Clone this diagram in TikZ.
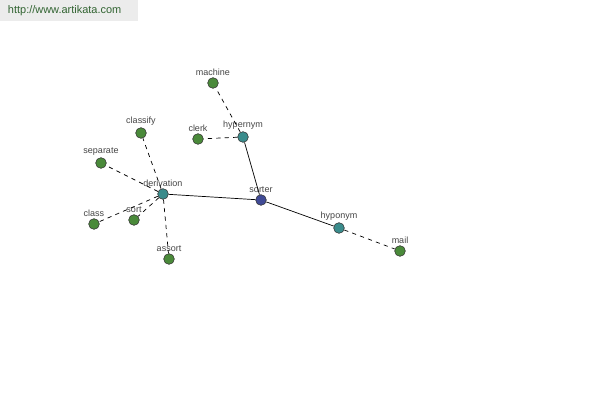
\documentclass[tikz,border=0pt]{standalone}
\usepackage{fontspec}
\setmainfont{Liberation Sans}
\definecolor{leaf}{RGB}{74,138,58}
\definecolor{hub}{RGB}{58,140,140}
\definecolor{root}{RGB}{64,74,150}
\definecolor{banner}{RGB}{236,236,236}
\definecolor{linktext}{RGB}{50,100,50}
\definecolor{labeltext}{RGB}{70,70,70}
\usetikzlibrary{positioning}

\tikzset{
  word/.style={circle,draw=black!80,line width=0.4pt,minimum size=7.6pt,inner sep=0pt,
    label={[font=\fontsize{6.4}{7}\selectfont,text=labeltext,inner sep=1pt]above:#1}},
  leafnode/.style={word=#1,fill=leaf},
  hubnode/.style={word=#1,fill=hub},
  rootnode/.style={word=#1,fill=root},
  strong/.style={draw=black,line width=0.5pt},
  weak/.style={draw=black,line width=0.5pt,dash pattern=on 3pt off 3pt}
}

\begin{document}
\begin{tikzpicture}[x=0.025cm,y=-0.025cm]
  \useasboundingbox (0,0) rectangle (600,400);
  \fill[white] (0,0) rectangle (600,400);
  % banner
  \fill[banner] (0,0) rectangle (138,21);
  \node[font=\fontsize{7.8}{9}\selectfont,text=linktext,anchor=west] (site) at (3,11) {http://www.artikata.com};

  % nodes
  \node[rootnode=sorter]     (sorter)     at (261,200) {};
  \node[hubnode=derivation]  (derivation) at (163,194) {};
  \node[hubnode=hypernym]    (hypernym)   at (243,137) {};
  \node[hubnode=hyponym]     (hyponym)    at (339,228) {};
  \node[leafnode=mail]       (mail)       at (400,251) {};
  \node[leafnode=machine]    (machine)    at (213,83)  {};
  \node[leafnode=clerk]      (clerk)      at (198,139) {};
  \node[leafnode=classify]   (classify)   at (141,133) {};
  \node[leafnode=separate]   (separate)   at (101,163) {};
  \node[leafnode=class]      (class)      at (94,224)  {};
  \node[leafnode=sort]       (sort)       at (134,220) {};
  \node[leafnode=assort]     (assort)     at (169,259) {};

  % solid links
  \draw[strong] (sorter) -- (derivation);
  \draw[strong] (sorter) -- (hypernym);
  \draw[strong] (sorter) -- (hyponym);
  % dashed links
  \draw[weak] (hyponym) -- (mail);
  \draw[weak] (hypernym) -- (machine);
  \draw[weak] (hypernym) -- (clerk);
  \foreach \w in {classify,separate,class,sort,assort}
    \draw[weak] (derivation) -- (\w);
\end{tikzpicture}
\end{document}
